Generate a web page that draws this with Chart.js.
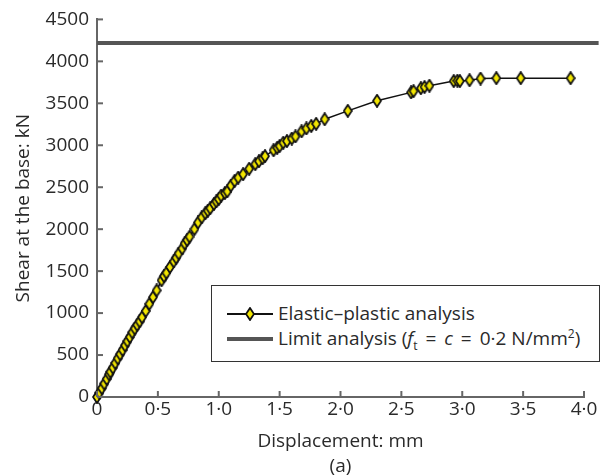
<!DOCTYPE html>
<html>
<head>
<meta charset="utf-8">
<script src="https://cdn.jsdelivr.net/npm/chart.js@4"></script>
<style>
  html, body { margin: 0; padding: 0; background: #fff; }
  #wrap { position: relative; width: 607px; height: 476px; }
  #legendBox {
    position: absolute; left: 211px; top: 285px; width: 389px; height: 77px;
    border: 1px solid #333; background: #fff; box-sizing: border-box;
    font-family: "Open Sans", sans-serif; font-size: 19px; color: #2a2a2a;
  }
  .item { position: absolute; left: 15px; height: 22px; line-height: 22px; white-space: nowrap; }
  .item canvas { vertical-align: middle; margin-right: 5px; position: relative; top: -1px; }
  .eq { padding: 0 3px; }
  sub, sup { font-size: 12px; line-height: 0; }
</style>
</head>
<body>
<div id="wrap">
  <canvas id="chart" width="607" height="476"></canvas>
  <div id="legendBox">
    <div class="item" style="top:16px"><canvas id="lg1" width="46" height="16"></canvas>Elastic–plastic analysis</div>
    <div class="item" style="top:41px"><canvas id="lg2" width="46" height="16"></canvas>Limit analysis (<i>f</i><sub>t</sub> <span class="eq">=</span> <i>c</i> <span class="eq">=</span> 0·2 N/mm<sup>2</sup>)</div>
  </div>
</div>
<script>
// values
const dispMm = [0, 0.02, 0.04, 0.06, 0.08, 0.10, 0.11, 0.13, 0.15, 0.17, 0.19, 0.21, 0.23, 0.25, 0.27, 0.29,
  0.31, 0.33, 0.35, 0.37, 0.40, 0.43, 0.46, 0.49, 0.53, 0.55, 0.57, 0.60, 0.63, 0.65, 0.67, 0.70, 0.72, 0.74,
  0.76, 0.80, 0.83, 0.86, 0.89, 0.91, 0.93, 0.96, 0.98, 1.00, 1.02, 1.05, 1.07, 1.10, 1.13, 1.16, 1.20, 1.25,
  1.30, 1.33, 1.36, 1.38, 1.45, 1.48, 1.50, 1.53, 1.56, 1.60, 1.63, 1.68, 1.72, 1.76, 1.80, 1.87, 2.06, 2.30,
  2.58, 2.60, 2.66, 2.69, 2.73, 2.93, 2.96, 2.98, 3.06, 3.15, 3.28, 3.48, 3.89];
const shearKn = [0, 50, 105, 160, 215, 270, 300, 350, 405, 460, 510, 560, 615, 665, 715, 770,
  815, 860, 900, 950, 1025, 1110, 1190, 1270, 1390, 1440, 1480, 1550, 1615, 1660, 1710, 1770, 1830, 1870,
  1910, 2000, 2080, 2140, 2190, 2220, 2250, 2300, 2330, 2360, 2400, 2430, 2450, 2520, 2575, 2615, 2655, 2720,
  2775, 2810, 2845, 2870, 2940, 2970, 2990, 3030, 3050, 3080, 3105, 3165, 3200, 3230, 3255, 3310, 3410, 3530,
  3630, 3645, 3680, 3695, 3710, 3765, 3770, 3765, 3775, 3795, 3800, 3800, 3800];
const limitX = [0, 4.12];
const limitY = [4220, 4220];
const xTicks = [0, 0.5, 1.0, 1.5, 2.0, 2.5, 3.0, 3.5, 4.0];
const yTicks = [0, 500, 1000, 1500, 2000, 2500, 3000, 3500, 4000, 4500];

const axisColor = '#666';
const textColor = '#2a2a2a';
const font = "Open Sans";

// elongated yellow diamond marker
function makeDiamond() {
  const c = document.createElement('canvas');
  c.width = 10; c.height = 14;
  const g = c.getContext('2d');
  g.beginPath();
  g.moveTo(5, 1); g.lineTo(9, 7); g.lineTo(5, 13); g.lineTo(1, 7); g.closePath();
  g.fillStyle = '#f2e600'; g.fill();
  g.lineWidth = 1.8; g.strokeStyle = '#111'; g.stroke();
  return c;
}
const diamond = makeDiamond();

// legend samples
(function () {
  const g1 = document.getElementById('lg1').getContext('2d');
  g1.strokeStyle = '#111'; g1.lineWidth = 2;
  g1.beginPath(); g1.moveTo(0, 8); g1.lineTo(46, 8); g1.stroke();
  g1.drawImage(diamond, 18, 1);
  const g2 = document.getElementById('lg2').getContext('2d');
  g2.strokeStyle = '#555'; g2.lineWidth = 4;
  g2.beginPath(); g2.moveTo(0, 8); g2.lineTo(46, 8); g2.stroke();
})();

const fmtX = v => v === 0 ? '0' : v.toFixed(1).replace('.', '·');

// ticks point inward from the axes
const innerTicks = {
  id: 'innerTicks',
  afterDraw(chart) {
    const { ctx, chartArea, scales } = chart;
    ctx.save();
    ctx.strokeStyle = axisColor;
    ctx.lineWidth = 2;
    xTicks.forEach(v => {
      const px = scales.x.getPixelForValue(v);
      ctx.beginPath(); ctx.moveTo(px, chartArea.bottom); ctx.lineTo(px, chartArea.bottom - 6); ctx.stroke();
    });
    yTicks.forEach(v => {
      const py = scales.y.getPixelForValue(v);
      ctx.beginPath(); ctx.moveTo(chartArea.left, py); ctx.lineTo(chartArea.left + 6, py); ctx.stroke();
    });
    ctx.restore();
  }
};

new Chart(document.getElementById('chart'), {
  type: 'scatter',
  data: {
    datasets: [
      {
        label: 'Limit analysis',
        data: limitX.map((x, i) => ({ x, y: limitY[i] })),
        showLine: true,
        borderColor: '#555',
        borderWidth: 4,
        pointRadius: 0,
        clip: false
      },
      {
        label: 'Elastic–plastic analysis',
        data: dispMm.map((x, i) => ({ x, y: shearKn[i] })),
        showLine: true,
        borderColor: '#111',
        borderWidth: 1.5,
        pointStyle: diamond,
        pointRadius: 5,
        clip: false
      }
    ]
  },
  options: {
    responsive: false,
    animation: false,
    layout: { padding: { top: 15, right: 23, left: 12, bottom: 0 } },
    plugins: { legend: { display: false }, tooltip: { enabled: false } },
    scales: {
      x: {
        type: 'linear', min: 0, max: 4,
        afterBuildTicks: s => { s.ticks = xTicks.map(v => ({ value: v })); },
        afterFit: s => { s.height = 79; },
        grid: { display: false, drawTicks: false },
        border: { color: axisColor, width: 2 },
        ticks: { color: textColor, font: { family: font, size: 19 }, padding: 1, maxRotation: 0, callback: v => fmtX(v) },
        title: { display: true, text: ['Displacement: mm', '(a)'], color: textColor, font: { family: font, size: 19, lineHeight: 1.3 }, padding: { top: 0, bottom: -3 } }
      },
      y: {
        type: 'linear', min: 0, max: 4500,
        afterBuildTicks: s => { s.ticks = yTicks.map(v => ({ value: v })); },
        afterFit: s => { s.width = 85; },
        grid: { display: false, drawTicks: false },
        border: { color: axisColor, width: 2 },
        ticks: { color: textColor, font: { family: font, size: 19 }, padding: 8, callback: v => String(v) },
        title: { display: true, text: 'Shear at the base: kN', color: textColor, font: { family: font, size: 19 }, padding: { top: 0, bottom: 0 } }
      }
    }
  },
  plugins: [innerTicks]
});
</script>
</body>
</html>
